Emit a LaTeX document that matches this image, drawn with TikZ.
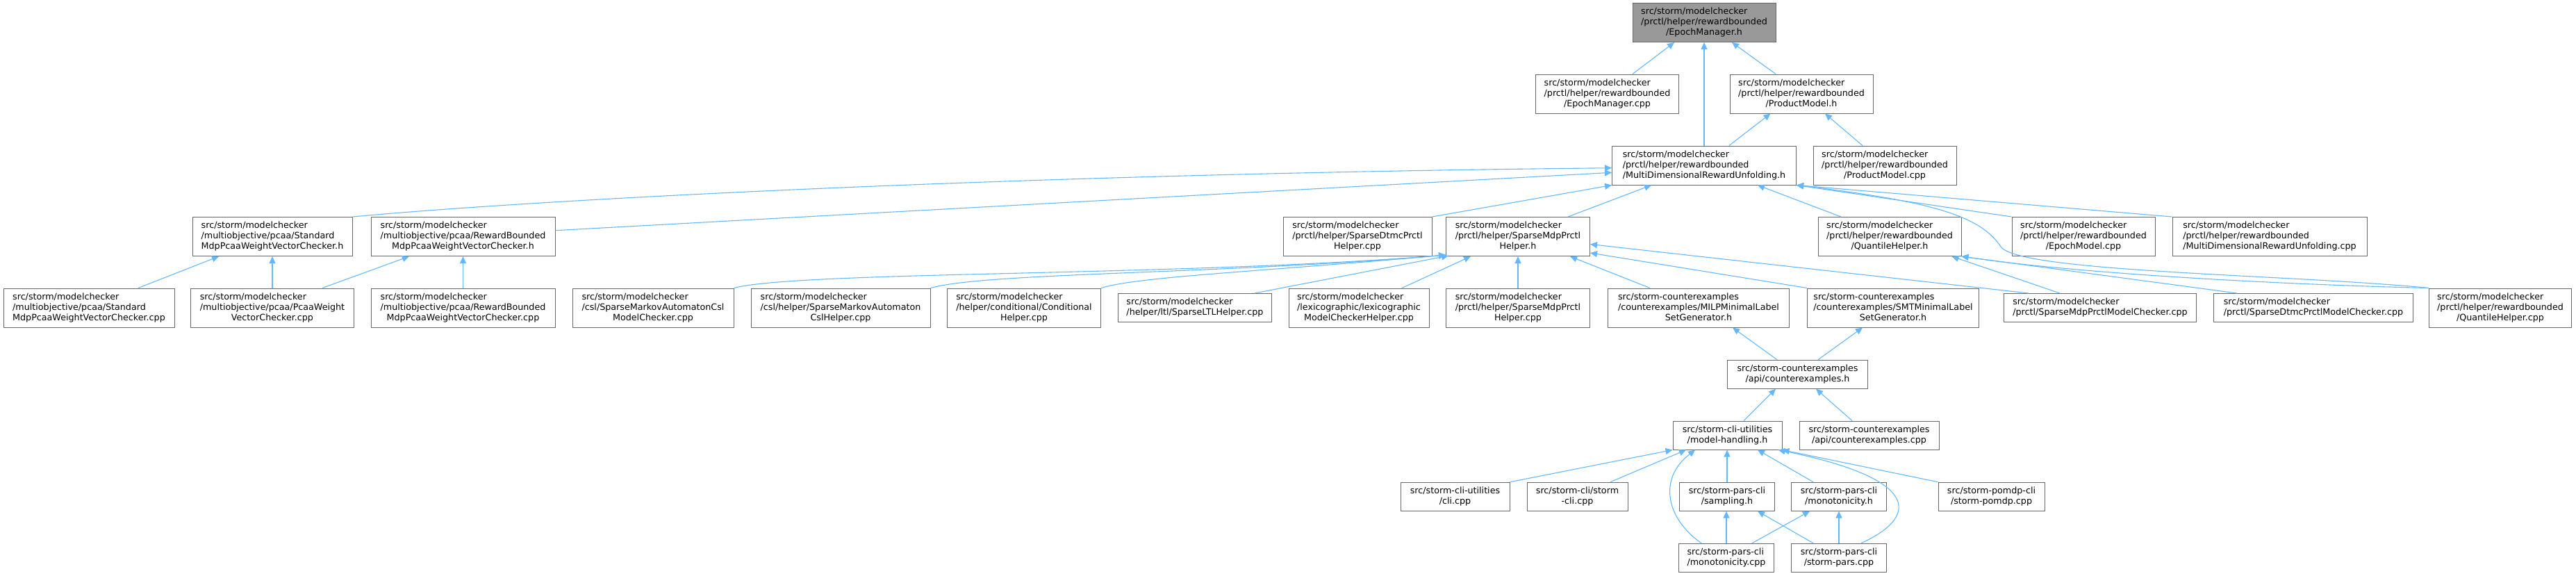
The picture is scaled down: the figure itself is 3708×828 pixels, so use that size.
\documentclass[tikz,border=0pt]{standalone}
\usepackage{fontspec}
\setmainfont{DejaVu Sans}
\usetikzlibrary{arrows.meta}
\definecolor{edgeblue}{HTML}{63B8FF}
\definecolor{boxline}{HTML}{666666}
\definecolor{rootfill}{HTML}{999999}
\newcommand\lastln[1]{\multicolumn{1}{@{}c@{}}{#1}}
\newcommand\nd[5][box]{\node[#1, minimum width=#4pt] (#2) at (#3) {\begin{tabular}{@{}l@{}}#5\end{tabular}};}
\tikzset{
  box/.style={draw=boxline, fill=white, line width=1pt, inner xsep=3pt, inner ysep=5.5pt,
    font=\fontsize{12.7}{15}\selectfont, text=black},
  rootbox/.style={box, fill=rootfill},
  edge/.style={draw=edgeblue, line width=1.1pt, -{Triangle[length=10pt,width=9pt]}},
}
\begin{document}
\begin{tikzpicture}[x=1pt,y=-1pt]
\useasboundingbox (0,0) rectangle (3708,828);
% rank 0-2
\nd[rootbox]{emh}{2453,32.5}{206}{src/storm/modelchecker\\/prctl/helper/rewardbounded\\\lastln{/EpochManager.h}}
\nd{emcpp}{2313.5,135}{206}{src/storm/modelchecker\\/prctl/helper/rewardbounded\\\lastln{/EpochManager.cpp}}
\nd{pmh}{2593,135}{206}{src/storm/modelchecker\\/prctl/helper/rewardbounded\\\lastln{/ProductModel.h}}
\nd{mdruh}{2453,238}{265}{src/storm/modelchecker\\/prctl/helper/rewardbounded\\\lastln{/MultiDimensionalRewardUnfolding.h}}
\nd{pmcpp}{2713,238}{206}{src/storm/modelchecker\\/prctl/helper/rewardbounded\\\lastln{/ProductModel.cpp}}
% rank 3
\nd{stdh}{392,340.5}{230}{src/storm/modelchecker\\/multiobjective/pcaa/Standard\\\lastln{MdpPcaaWeightVectorChecker.h}}
\nd{rbh}{666.5,340.5}{265}{src/storm/modelchecker\\/multiobjective/pcaa/RewardBounded\\\lastln{MdpPcaaWeightVectorChecker.h}}
\nd{dtmchelpcpp}{1954,340.5}{214}{src/storm/modelchecker\\/prctl/helper/SparseDtmcPrctl\\\lastln{Helper.cpp}}
\nd{mdphelph}{2185,340.5}{207}{src/storm/modelchecker\\/prctl/helper/SparseMdpPrctl\\\lastln{Helper.h}}
\nd{quanth}{2720,340.5}{206}{src/storm/modelchecker\\/prctl/helper/rewardbounded\\\lastln{/QuantileHelper.h}}
\nd{epochmodelcpp}{2999,340.5}{206}{src/storm/modelchecker\\/prctl/helper/rewardbounded\\\lastln{/EpochModel.cpp}}
\nd{mdrucpp}{3267,340.5}{280}{src/storm/modelchecker\\/prctl/helper/rewardbounded\\\lastln{/MultiDimensionalRewardUnfolding.cpp}}
% rank 4
\nd{stdcpp}{128,443}{246}{src/storm/modelchecker\\/multiobjective/pcaa/Standard\\\lastln{MdpPcaaWeightVectorChecker.cpp}}
\nd{pcaacpp}{392,443}{235}{src/storm/modelchecker\\/multiobjective/pcaa/PcaaWeight\\\lastln{VectorChecker.cpp}}
\nd{rbcpp}{666.5,443}{265}{src/storm/modelchecker\\/multiobjective/pcaa/RewardBounded\\\lastln{MdpPcaaWeightVectorChecker.cpp}}
\nd{macslmc}{940,443}{232}{src/storm/modelchecker\\/csl/SparseMarkovAutomatonCsl\\\lastln{ModelChecker.cpp}}
\nd{macslhelp}{1210,443}{258}{src/storm/modelchecker\\/csl/helper/SparseMarkovAutomaton\\\lastln{CslHelper.cpp}}
\nd{condhelp}{1474,443}{221}{src/storm/modelchecker\\/helper/conditional/Conditional\\\lastln{Helper.cpp}}
\nd{ltlhelp}{1720,443}{221}{src/storm/modelchecker\\\lastln{/helper/ltl/SparseLTLHelper.cpp}}
\nd{lexcpp}{1956,443}{202}{src/storm/modelchecker\\/lexicographic/lexicographic\\\lastln{ModelCheckerHelper.cpp}}
\nd{mdphelpcpp}{2185,443}{207}{src/storm/modelchecker\\/prctl/helper/SparseMdpPrctl\\\lastln{Helper.cpp}}
\nd{milp}{2445,443}{261}{src/storm-counterexamples\\/counterexamples/MILPMinimalLabel\\\lastln{SetGenerator.h}}
\nd{smt}{2725,443}{247}{src/storm-counterexamples\\/counterexamples/SMTMinimalLabel\\\lastln{SetGenerator.h}}
\nd{mdpmc}{3023,443}{277}{src/storm/modelchecker\\\lastln{/prctl/SparseMdpPrctlModelChecker.cpp}}
\nd{dtmcmc}{3330,443}{287}{src/storm/modelchecker\\\lastln{/prctl/SparseDtmcPrctlModelChecker.cpp}}
\nd{quantcpp}{3599,443}{205}{src/storm/modelchecker\\/prctl/helper/rewardbounded\\\lastln{/QuantileHelper.cpp}}
% rank 5-8
\nd{cexh}{2587.5,538.7}{202}{src/storm-counterexamples\\\lastln{/api/counterexamples.h}}
\nd{mh}{2486.5,626.5}{157}{src/storm-cli-utilities\\\lastln{/model-handling.h}}
\nd{cexcpp}{2690.5,626.5}{201}{src/storm-counterexamples\\\lastln{/api/counterexamples.cpp}}
\nd{clicpp}{2094.5,714.7}{157}{src/storm-cli-utilities\\\lastln{/cli.cpp}}
\nd{stormcli}{2270.5,714.7}{145}{src/storm-cli/storm\\\lastln{-cli.cpp}}
\nd{samplh}{2486,714.7}{137}{src/storm-pars-cli\\\lastln{/sampling.h}}
\nd{monoh}{2647,714.7}{137}{src/storm-pars-cli\\\lastln{/monotonicity.h}}
\nd{pomdp}{2866.5,714.7}{153}{src/storm-pomdp-cli\\\lastln{/storm-pomdp.cpp}}
\nd{monocpp}{2485,802.7}{137}{src/storm-pars-cli\\\lastln{/monotonicity.cpp}}
\nd{parscpp}{2647,802.7}{137}{src/storm-pars-cli\\\lastln{/storm-pars.cpp}}
% edges into EpochManager.h / ProductModel.h
\draw[edge] ([xshift=36.5pt]emcpp.north) -- ([xshift=-43pt]emh.south);
\draw[edge] (mdruh.north) -- (emh.south);
\draw[edge] ([xshift=-37pt]pmh.north) -- ([xshift=40pt]emh.south);
\draw[edge] ([xshift=36pt]mdruh.north) -- ([xshift=-44.5pt]pmh.south);
\draw[edge] ([xshift=-32pt]pmcpp.north) -- ([xshift=34pt]pmh.south);
% edges into MultiDimensionalRewardUnfolding.h
\draw[edge] (stdh.north east) .. controls (800,285) and (1500,250) .. ([yshift=-3.7pt]mdruh.west);
\draw[edge] ([yshift=8.8pt]rbh.east) -- ([yshift=-10.3pt]mdruh.west);
\draw[edge] (dtmchelpcpp.north east) -- (mdruh.south west);
\draw[edge] ([xshift=72pt]mdphelph.north) -- ([xshift=-76pt]mdruh.south);
\draw[edge] ([xshift=-70pt]quanth.north) -- ([xshift=77pt]mdruh.south);
\draw[edge] (epochmodelcpp.north west) -- (mdruh.south east);
\draw[edge] (mdrucpp.north west) -- (mdruh.south east);
\draw[edge] (quantcpp.north west) .. controls (3300,395) and (2905,392) .. (2880,355) .. controls (2850,310) and (2780,290) .. (mdruh.south east);
% edges into QuantileHelper.h
\draw[edge] (quantcpp.north west) .. controls (3300,410) and (3000,395) .. (quanth.south east);
\draw[edge] ([xshift=-110pt]dtmcmc.north) -- (quanth.south east);
\draw[edge] ([xshift=-58pt]mdpmc.north) -- ([xshift=-14pt]quanth.south east);
% edges into pcaa headers
\draw[edge] ([xshift=71pt]stdcpp.north) -- ([xshift=-77pt]stdh.south);
\draw[edge] (pcaacpp.north) -- (pcaacpp.north |- stdh.south);
\draw[edge] ([xshift=72pt]pcaacpp.north) -- ([xshift=-77.5pt]rbh.south);
\draw[edge] (rbcpp.north) -- (rbh.south);
% edges into SparseMdpPrctlHelper.h
\draw[edge] (macslmc.north east) .. controls (1150,390) and (1700,398) .. ([yshift=2pt]mdphelph.south west);
\draw[edge] (macslhelp.north east) .. controls (1420,392) and (1750,395) .. ([yshift=2pt]mdphelph.south west);
\draw[edge] (condhelp.north east) .. controls (1640,398) and (1800,392) .. ([yshift=2pt]mdphelph.south west);
\draw[edge] ([xshift=86pt]ltlhelp.north) -- ([xshift=4pt,yshift=1pt]mdphelph.south west);
\draw[edge] ([xshift=62pt]lexcpp.north) -- ([xshift=-68pt]mdphelph.south);
\draw[edge] (mdphelpcpp.north) -- (mdphelph.south);
\draw[edge] ([xshift=-70pt]milp.north) -- ([xshift=75pt]mdphelph.south);
\draw[edge] (smt.north west) -- ([yshift=5pt]mdphelph.south east);
\draw[edge] ([xshift=-103pt]mdpmc.north) -- ([yshift=-11pt]mdphelph.east);
% counterexamples
\draw[edge] ([xshift=-29.5pt]cexh.north) -- ([xshift=49pt]milp.south);
\draw[edge] ([xshift=29.5pt]cexh.north) -- ([xshift=-44pt]smt.south);
\draw[edge] ([xshift=23.5pt]mh.north) -- ([xshift=-31.5pt]cexh.south);
\draw[edge] ([xshift=-24.5pt]cexcpp.north) -- ([xshift=26.5pt]cexh.south);
% edges into model-handling.h
\draw[edge] (clicpp.north east) -- (mh.south west);
\draw[edge] ([xshift=47.5pt]stormcli.north) -- ([xshift=-59.5pt]mh.south);
\draw[edge] ([xshift=-36pt]monocpp.north) .. controls (2400,748) and (2385,690) .. ([xshift=-46.5pt]mh.south);
\draw[edge] (samplh.north) -- (samplh.north |- mh.south);
\draw[edge] ([xshift=-37pt]monoh.north) -- ([xshift=43.5pt]mh.south);
\draw[edge] ([xshift=32pt]parscpp.north) .. controls (2760,745) and (2770,690) .. ([xshift=-6pt]mh.south east);
\draw[edge] (pomdp.north west) -- (mh.south east);
% bottom
\draw[edge] (monocpp.north) -- (monocpp.north |- samplh.south);
\draw[edge] ([xshift=-37pt]parscpp.north) -- ([xshift=44pt]samplh.south);
\draw[edge] ([xshift=37pt]monocpp.north) -- ([xshift=-42pt]monoh.south);
\draw[edge] (parscpp.north) -- (monoh.south);
\end{tikzpicture}
\end{document}
